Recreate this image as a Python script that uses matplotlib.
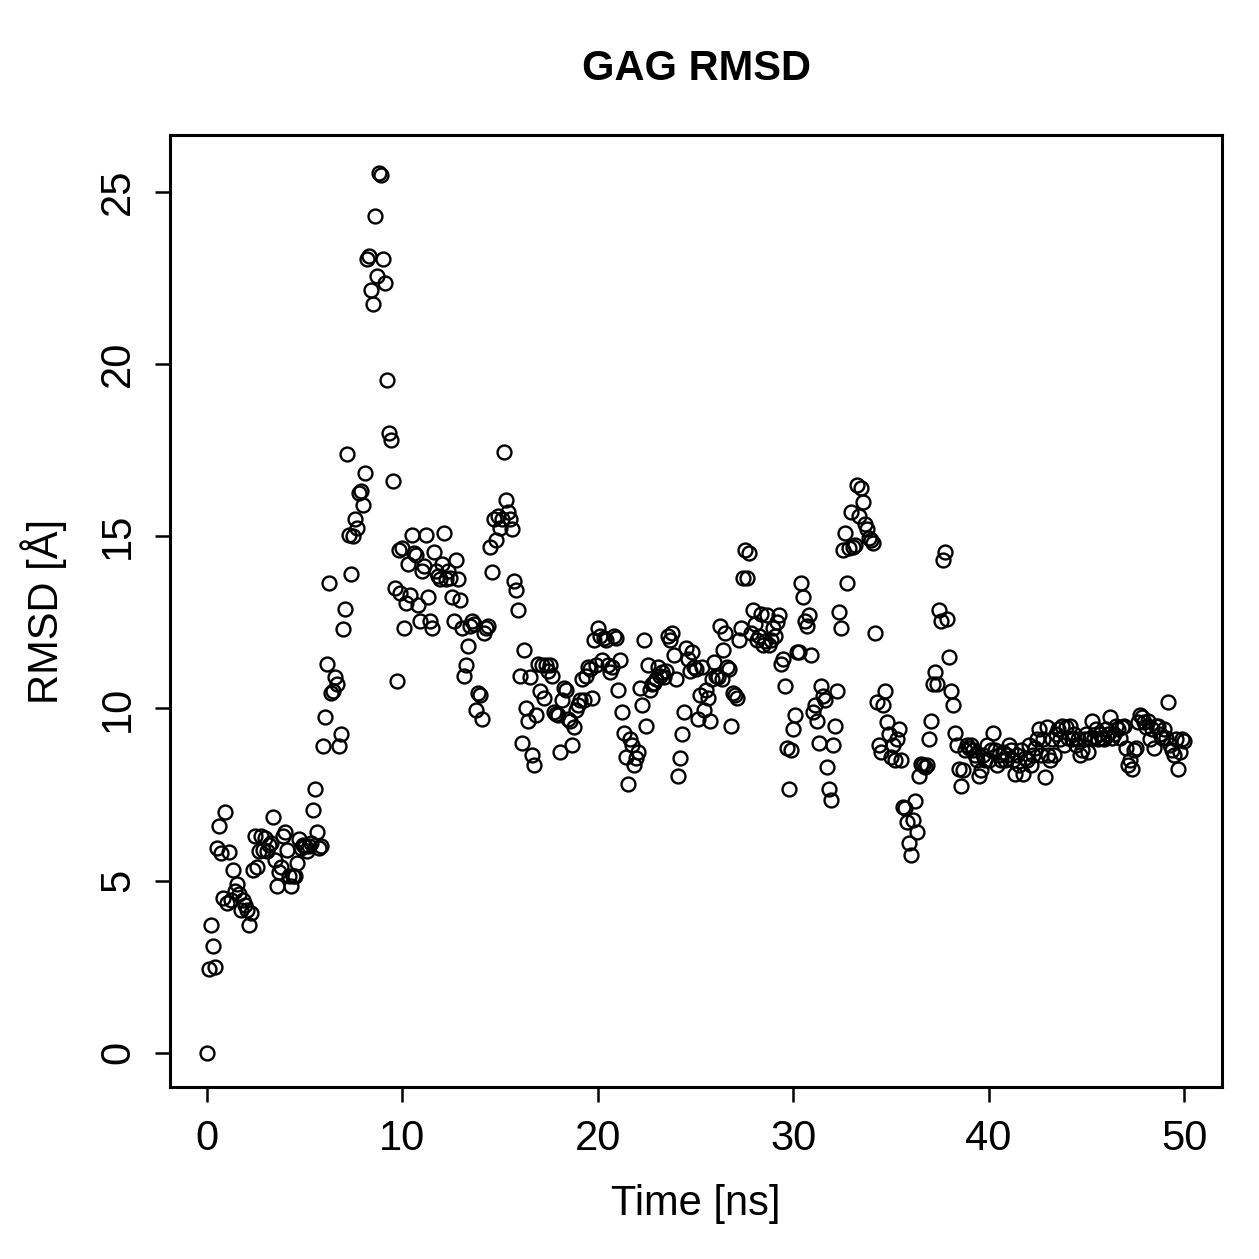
import numpy as np
import matplotlib
matplotlib.use("Agg")
import matplotlib.pyplot as plt

plt.rcParams["font.family"] = ["Liberation Sans", "DejaVu Sans"]

# RMSD values (Å) in order of time
rmsd_0_5 = [0, 2.44, 3.7, 3.1, 2.5, 5.95, 6.6, 5.8, 4.5, 7.0,
            4.35, 5.83, 4.45, 5.3, 4.7, 4.9, 4.6, 4.15, 4.45, 4.3,
            4.15, 3.7, 4.05, 5.3, 6.3, 5.4, 5.85, 6.3, 5.9, 6.25,
            5.85, 6.05, 6.1, 6.85, 5.6, 4.85, 5.25, 5.4, 6.3, 6.4,
            5.9, 5.15, 4.85, 5.15, 5.15, 5.5, 6.2, 5.95, 6.05, 6.0]
rmsd_5_10 = [5.85, 6.0, 6.1, 7.05, 7.65, 6.4, 5.95, 6.0, 8.9, 9.75,
             11.3, 13.65, 10.45, 10.5, 10.9, 10.7, 8.9, 9.25, 12.3, 12.9,
             17.4, 15.05, 13.9, 15.0, 15.5, 15.25, 16.25, 16.3, 15.9, 16.85,
             23.05, 23.15, 22.15, 21.75, 24.3, 22.55, 25.55, 25.5, 23.05, 22.35,
             19.55, 18.0, 17.8, 16.6, 13.5, 10.8, 14.6, 13.35, 14.65, 12.35]
rmsd_10_15 = [13.05, 14.2, 13.3, 15.05, 14.5, 14.45, 13.0, 12.55, 14.0, 14.15,
              15.05, 13.25, 12.55, 12.35, 14.55, 14.0, 13.85, 13.75, 14.2, 15.1,
              13.75, 14.0, 13.8, 13.25, 12.55, 14.3, 13.75, 13.15, 12.35, 10.95,
              11.25, 11.8, 12.4, 12.55, 12.45, 9.95, 10.45, 10.4, 9.7, 12.2,
              12.35, 12.4, 14.7, 13.95, 15.5, 14.9, 15.6, 15.25, 15.5, 17.45]
rmsd_15_20 = [16.05, 15.7, 15.5, 15.2, 13.7, 13.45, 12.85, 10.95, 9.0, 11.7,
              10.0, 9.65, 10.9, 8.65, 8.35, 9.8, 11.3, 10.5, 11.25, 10.3,
              11.25, 11.1, 11.25, 10.95, 9.9, 9.85, 9.8, 8.75, 10.25, 10.6,
              10.55, 9.7, 9.65, 8.95, 9.45, 9.95, 10.1, 10.25, 10.85, 10.25,
              10.95, 11.2, 11.15, 10.3, 12.0, 11.25, 12.35, 12.1, 11.4, 12.05]
rmsd_20_25 = [12.0, 11.25, 11.05, 11.2, 12.1, 12.05, 10.55, 11.4, 9.9, 9.3,
              8.6, 7.8, 9.1, 8.95, 8.35, 8.55, 8.75, 10.6, 10.1, 12.0,
              9.5, 11.25, 10.55, 10.7, 10.75, 10.85, 11.2, 10.95, 11.05, 10.9,
              11.1, 12.1, 12.0, 12.2, 11.55, 10.85, 8.05, 8.55, 9.25, 9.9,
              11.75, 11.45, 11.1, 11.65, 11.2, 11.15, 9.7, 10.4, 11.2, 9.95]
rmsd_25_30 = [10.55, 10.3, 9.65, 10.85, 11.35, 10.95, 10.9, 12.4, 10.85, 11.7,
              12.2, 11.2, 11.15, 9.5, 10.45, 10.4, 10.3, 12.0, 12.35, 13.8,
              14.6, 13.8, 14.5, 12.2, 12.85, 12.45, 12.0, 12.1, 12.75, 11.85,
              11.95, 12.7, 11.85, 12.0, 12.35, 12.1, 12.5, 12.7, 11.3, 11.45,
              10.65, 8.85, 7.65, 8.8, 9.4, 9.8, 11.65, 11.65, 13.65, 13.25]
rmsd_30_35 = [12.55, 12.4, 12.7, 11.55, 9.9, 10.1, 9.65, 9.0, 10.65, 10.35,
              10.25, 8.3, 7.65, 7.35, 8.95, 9.5, 10.5, 12.8, 12.35, 14.6,
              15.1, 13.65, 14.65, 15.7, 14.7, 14.75, 16.5, 15.6, 16.4, 16.0,
              15.35, 15.2, 14.95, 14.9, 14.8, 12.2, 10.2, 8.95, 8.75, 10.1,
              10.5, 9.6, 9.25, 8.6, 8.95, 8.5, 9.1, 9.4, 8.5, 7.15]
rmsd_35_39 = [7.1, 6.7, 6.1, 5.75, 6.75, 7.3, 6.4, 8.05, 8.4, 8.35,
              8.3, 8.35, 9.1, 9.65, 10.7, 11.05, 10.7, 12.85, 12.55, 14.3,
              14.55, 12.6, 11.5, 10.5, 10.1, 9.3, 8.95, 8.25, 7.75, 8.2]
rmsd_39_50 = [8.8, 8.95, 8.85, 8.95, 8.8, 8.65, 8.5, 8.05, 8.2, 8.65,
              8.5, 8.95, 8.5, 8.8, 9.3, 8.8, 8.35, 8.65, 8.5, 8.75,
              8.5, 8.65, 8.95, 8.8, 8.5, 8.1, 8.65, 8.35, 8.8, 8.1,
              8.55, 8.5, 8.95, 8.35, 8.65, 8.85, 9.1, 9.4, 8.65, 9.1,
              8.0, 9.45, 8.65, 8.5, 9.1, 8.65, 9.25, 9.4, 9.1, 9.5,
              8.95, 9.45, 9.15, 9.5, 9.1, 9.25, 8.95, 9.1, 8.65, 8.8,
              9.1, 9.25, 8.75, 9.15, 9.65, 9.15, 9.4, 9.1, 9.25, 9.15,
              9.1, 9.4, 9.25, 9.75, 9.15, 9.25, 9.5, 9.4, 9.15, 9.45,
              9.5, 8.85, 8.35, 8.5, 8.25, 8.8, 8.85, 9.6, 9.8, 9.75,
              9.6, 9.45, 9.65, 9.1, 9.4, 8.85, 9.5, 9.5, 9.25, 9.15,
              9.4, 9.15, 10.2, 8.95, 8.8, 8.65, 9.1, 8.25, 8.75, 9.1,
              9.05]

rmsd = np.array(rmsd_0_5 + rmsd_5_10 + rmsd_10_15 + rmsd_15_20 + rmsd_20_25
                + rmsd_25_30 + rmsd_30_35 + rmsd_35_39 + rmsd_39_50)
time_ns = np.linspace(0, 50, len(rmsd))

x_ticks = [0, 10, 20, 30, 40, 50]
y_ticks = [0, 5, 10, 15, 20, 25]

fig = plt.figure(figsize=(12.59, 12.59), dpi=100)
ax = fig.add_axes([0.135, 0.1366, 0.8356, 0.7562])

ax.plot(time_ns, rmsd, linestyle="none", marker="o", markersize=10,
        markerfacecolor="none", markeredgecolor="black", markeredgewidth=1.7)

ax.set_xlim(-1.9, 51.94)
ax.set_ylim(-0.99, 26.65)
ax.set_xticks(x_ticks)
ax.set_yticks(y_ticks)
ax.tick_params(axis="both", direction="out", length=11, width=1.8,
               labelsize=30, pad=12)
for lab in ax.get_yticklabels():
    lab.set_rotation(90)
    lab.set_va("center")
for sp in ax.spines.values():
    sp.set_linewidth(2.2)

ax.set_xlabel("Time [ns]", fontsize=30, labelpad=18)
ax.set_ylabel("RMSD [Å]", fontsize=30, labelpad=22)
fig.text(0.553, 0.945, "GAG RMSD", ha="center", va="center",
         fontsize=30, fontweight="bold")

fig.savefig("out.png", dpi=100)
